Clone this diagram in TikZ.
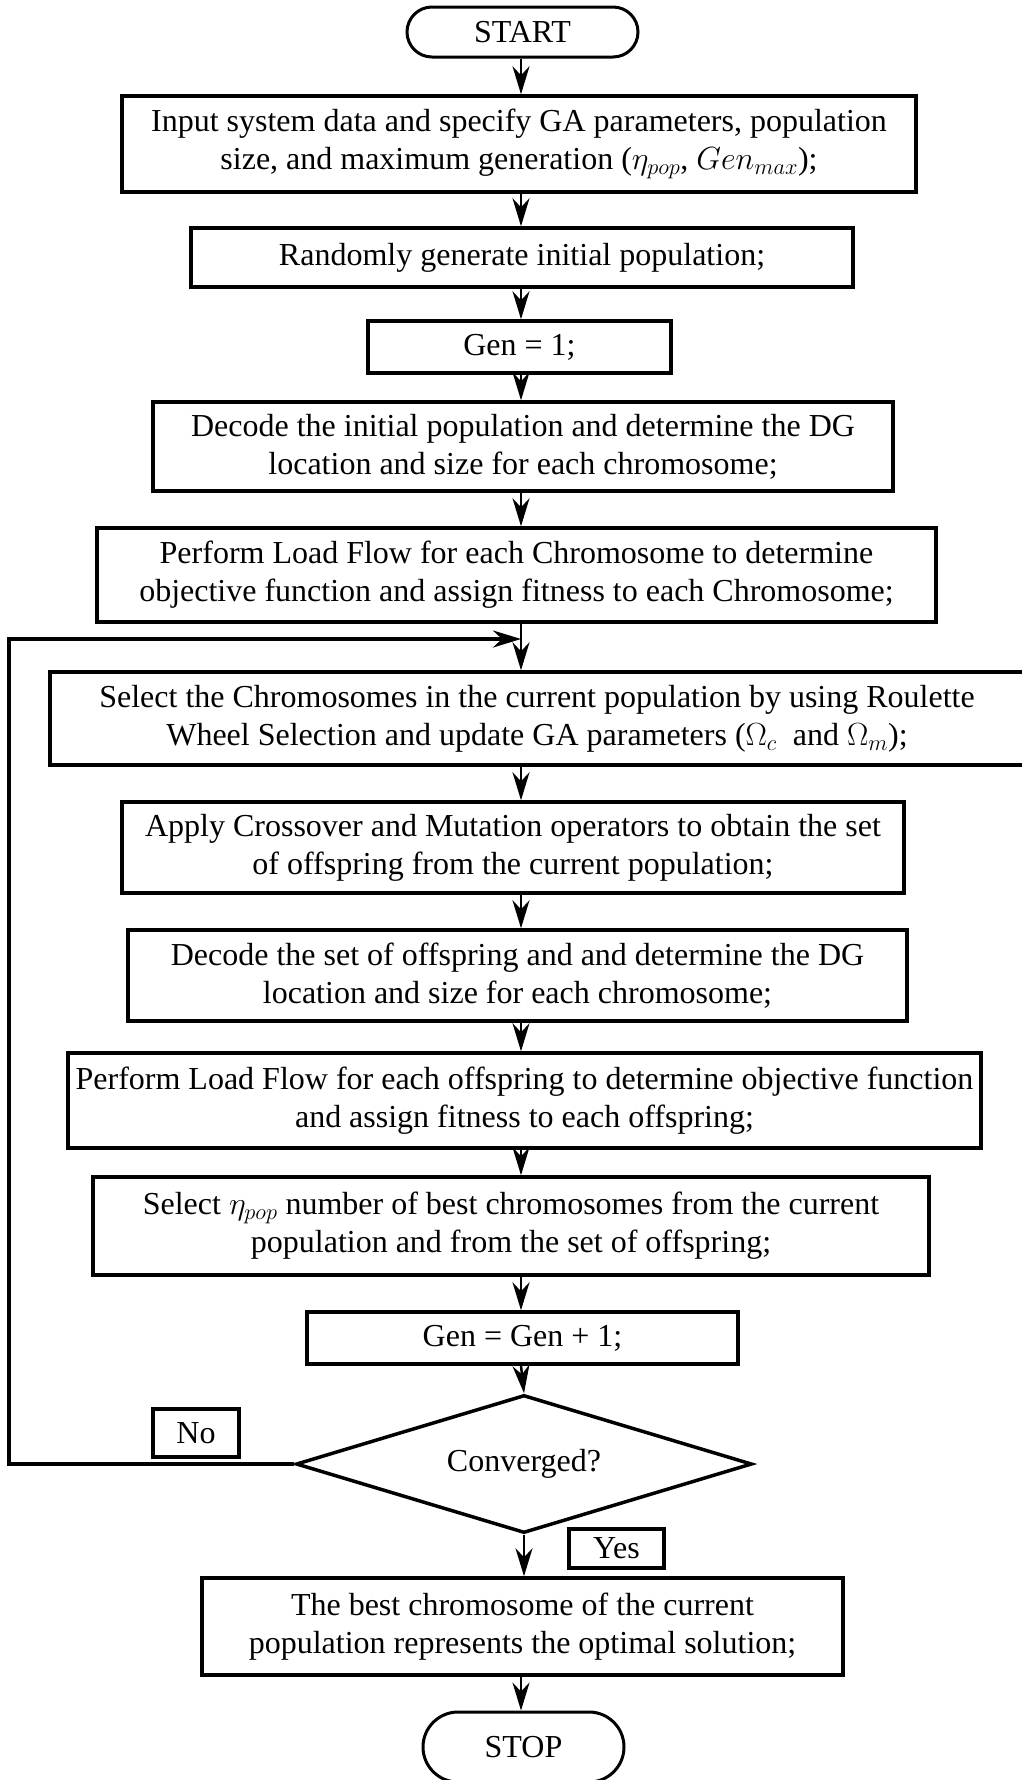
\documentclass[tikz,border=0pt]{standalone}
\usepackage{fix-cm}
\usepackage{fontspec}
\setmainfont{Liberation Serif}
\usetikzlibrary{arrows.meta}
\usetikzlibrary{shapes.geometric}
\tikzstyle{process} = [draw, rectangle, line width=3.5pt, align=center, inner sep=0pt]
\tikzstyle{terminal} = [draw, rectangle, line width=3pt, inner sep=0pt]
\tikzstyle{decision} = [draw, diamond, aspect=3.3, line width=3.5pt, inner sep=0pt]
\tikzstyle{tag} = [draw, rectangle, line width=3.5pt, inner sep=0pt]
\tikzstyle{flow} = [line width=2.5pt, -{Stealth[length=28pt, width=17pt, inset=9pt]}]

\begin{document}
\begin{tikzpicture}[x=1pt, y=-1pt, font=\fontsize{32}{38}\selectfont]
        \useasboundingbox (0,0) rectangle (1021,1780);
        \coordinate (spine) at (521,0);
        \node[terminal, rounded corners=25pt, minimum width=231pt, minimum height=50pt] (start) at (522.5,32) {START};
        \node[process, minimum width=794pt, minimum height=96pt] (inputdata) at (519,144) {Input system data and specify GA parameters, population\\size, and maximum generation (\(\eta_{pop}\), \(Gen_{max}\));};
        \node[process, minimum width=662pt, minimum height=59pt] (randomgen) at (522,257.5) {Randomly generate initial population;};
        \node[process, minimum width=303pt, minimum height=52pt] (genone) at (519.5,347) {Gen = 1;};
        \node[process, minimum width=740pt, minimum height=89pt] (decodeinit) at (523,446.5) {Decode the initial population and determine the DG\\location and size for each chromosome;};
        \node[process, minimum width=839pt, minimum height=94pt] (loadflowchrom) at (516.5,575) {Perform Load Flow for each Chromosome to determine\\objective function and assign fitness to each Chromosome;};
        \node[process, minimum width=974pt, minimum height=93pt] (selectchrom) at (537,718.5) {Select the Chromosomes in the current population by using Roulette\\Wheel Selection and update GA parameters (\(\Omega_c\)\ \ and \(\Omega_m\));};
        \node[process, minimum width=782pt, minimum height=91pt] (crossmut) at (513,847.5) {Apply Crossover and Mutation operators to obtain the set\\of offspring from the current population;};
        \node[process, minimum width=779pt, minimum height=91pt] (decodeoff) at (517.5,975.5) {Decode the set of offspring and and determine the DG\\location and size for each chromosome;};
        \node[process, minimum width=913pt, minimum height=95pt] (loadflowoff) at (524.5,1100.5) {Perform Load Flow for each offspring to determine objective function\\and assign fitness to each offspring;};
        \node[process, minimum width=836pt, minimum height=98pt] (selectbest) at (511,1226) {Select \(\eta_{pop}\) number of best chromosomes from the current\\population and from the set of offspring;};
        \node[process, minimum width=431pt, minimum height=52pt] (genplus) at (522.5,1338) {Gen = Gen + 1;};
        \node[decision, minimum width=456pt, minimum height=138pt] (converged) at (524,1464) {Converged?};
        \node[process, minimum width=641pt, minimum height=97pt] (bestchrom) at (522.5,1626.5) {The best chromosome of the current\\population represents the optimal solution;};
        \node[terminal, rounded corners=35pt, minimum width=201pt, minimum height=70pt] (stop) at (523.5,1747) {STOP};
        \node[tag, minimum width=86pt, minimum height=48pt] (nolabel) at (196,1433) {No};
        \node[tag, minimum width=95pt, minimum height=39pt] (yeslabel) at (616.5,1548.5) {Yes};
        \coordinate (merge) at (521,639);
        \coordinate (loopleft) at (9,639);
        \draw[flow] (start.south -| spine) -- (inputdata.north -| spine);
        \draw[flow] (inputdata.south -| spine) -- (randomgen.north -| spine);
        \draw[flow] (randomgen.south -| spine) -- (genone.north -| spine);
        \draw[flow] (genone.south -| spine) -- (decodeinit.north -| spine);
        \draw[flow] (decodeinit.south -| spine) -- (loadflowchrom.north -| spine);
        \draw[flow] (loadflowchrom.south -| spine) -- (selectchrom.north -| spine);
        \draw[flow] (selectchrom.south -| spine) -- (crossmut.north -| spine);
        \draw[flow] (crossmut.south -| spine) -- (decodeoff.north -| spine);
        \draw[flow] (decodeoff.south -| spine) -- (loadflowoff.north -| spine);
        \draw[flow] (loadflowoff.south -| spine) -- (selectbest.north -| spine);
        \draw[flow] (selectbest.south -| spine) -- (genplus.north -| spine);
        \draw[flow] (genplus.south -| spine) -- (converged.north);
        \draw[flow] (converged.south) -- (bestchrom.north -| converged.south);
        \draw[flow] (bestchrom.south -| spine) -- (stop.north -| spine);
        \draw[flow, line width=3.5pt] (converged.west) -| (loopleft) -- (merge);
\end{tikzpicture}
\end{document}
